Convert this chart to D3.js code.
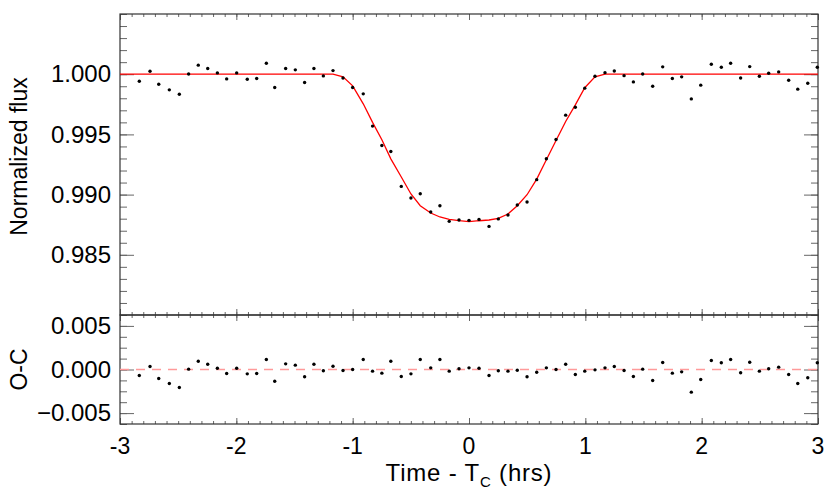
<!DOCTYPE html>
<html>
<head>
<meta charset="utf-8">
<script src="https://cdn.jsdelivr.net/npm/d3@7"></script>
<style>
  body { margin: 0; background: #fff; }
  svg { display: block; font-family: "Liberation Sans", Arial, sans-serif; }
  .tick line { stroke: #666; }
</style>
</head>
<body>
<div id="chart"></div>
<script>
// observation times (hrs from mid-transit)
const time = [-2.834, -2.742, -2.667, -2.576, -2.490, -2.410, -2.327, -2.246, -2.163, -2.083,
  -1.997, -1.906, -1.825, -1.742, -1.670, -1.576, -1.493, -1.413, -1.333, -1.252,
  -1.169, -1.083, -1.000, -0.909, -0.829, -0.749, -0.672, -0.582, -0.499, -0.419,
  -0.329, -0.250, -0.170, -0.086, 0.000, 0.086, 0.172, 0.252, 0.335, 0.415,
  0.499, 0.582, 0.665, 0.748, 0.831, 0.914, 0.995, 1.083, 1.169, 1.249,
  1.333, 1.413, 1.493, 1.579, 1.665, 1.748, 1.828, 1.911, 1.992, 2.083,
  2.169, 2.249, 2.335, 2.413, 2.496, 2.576, 2.662, 2.748, 2.826, 2.912, 2.994];

const flux = [0.99942, 1.00025, 0.99917, 0.99870, 0.99834, 1.00002, 1.00075, 1.00047, 1.00011, 0.99961,
  1.00011, 0.99958, 0.99964, 1.00091, 0.99889, 1.00047, 1.00036, 0.99931, 1.00047, 0.99986,
  1.00030, 0.99969, 0.99889, 0.99837, 0.99569, 0.99408, 0.99358, 0.99068, 0.98972, 0.99007,
  0.98856, 0.98908, 0.98778, 0.98789, 0.98786, 0.98794, 0.98736, 0.98798, 0.98831, 0.98914,
  0.98939, 0.99124, 0.99298, 0.99458, 0.99660, 0.99726, 0.99884, 0.99983, 1.00013, 1.00027,
  0.99988, 0.99936, 1.00002, 0.99900, 1.00061, 0.99964, 0.99978, 0.99795, 0.99909, 1.00083,
  1.00058, 1.00091, 0.99969, 1.00063, 0.99983, 1.00008, 1.00019, 0.99950, 0.99876, 0.99925, 1.00058];

// O-C residuals
const resid = [-0.00069, 0.00034, -0.00103, -0.00161, -0.00206, 0.00004, 0.00095, 0.00061, 0.00015, -0.00046,
  0.00015, -0.00050, -0.00046, 0.00115, -0.00134, 0.00065, 0.00050, -0.00084, 0.00061, -0.00015,
  0.00038, -0.00011, 0.00000, 0.00115, -0.00019, -0.00042, 0.00095, -0.00080, -0.00050, 0.00115,
  0.00019, 0.00115, -0.00019, 0.00008, 0.00019, 0.00015, -0.00069, -0.00015, -0.00019, -0.00008,
  -0.00084, -0.00031, 0.00019, 0.00000, 0.00061, -0.00057, -0.00019, -0.00004, 0.00019, 0.00034,
  -0.00011, -0.00080, 0.00004, -0.00126, 0.00080, -0.00042, -0.00027, -0.00260, -0.00115, 0.00103,
  0.00077, 0.00115, -0.00038, 0.00084, -0.00019, 0.00008, 0.00027, -0.00057, -0.00161, -0.00095, 0.00077];

// model light curve (red line)
const modelTime = [-3.0, -1.169, -1.083, -1.000, -0.909, -0.829, -0.749, -0.672, -0.582, -0.499,
  -0.419, -0.329, -0.250, -0.170, -0.086, 0.000, 0.086, 0.172, 0.252, 0.335,
  0.415, 0.499, 0.582, 0.665, 0.748, 0.831, 0.914, 0.995, 1.083, 1.169, 3.0];
const modelFlux = [1.00000, 1.00000, 0.99978, 0.99903, 0.99754, 0.99600, 0.99455, 0.99297, 0.99146, 0.99005,
  0.98908, 0.98847, 0.98814, 0.98794, 0.98783, 0.98775, 0.98783, 0.98789, 0.98803, 0.98839,
  0.98908, 0.98999, 0.99129, 0.99289, 0.99449, 0.99607, 0.99745, 0.99888, 0.99978, 1.00000, 1.00000];

const xTicks = [-3, -2, -1, 0, 1, 2, 3];
const fluxTicks = [0.985, 0.990, 0.995, 1.000];
const residTicks = [-0.005, 0.000, 0.005];

const W = 830, H = 501;
const pLeft = 120, pRight = 818, pTop = 14, pMid = 315, pBottom = 424;

const svg = d3.select("#chart").append("svg")
    .attr("width", W)
    .attr("height", H);

const x = d3.scaleLinear().domain([-3, 3]).range([pLeft, pRight]);
const yTop = d3.scaleLinear().domain([0.980, 1.005]).range([pMid, pTop]);
const yBot = d3.scaleLinear().domain([-0.00625, 0.00625]).range([pBottom, pMid]);

const xMinor = x.ticks(60);
const fluxMinor = yTop.ticks(25);
const residMinor = d3.range(-5, 6).map(i => i * 0.00125);

function yAxes(y, major, minor) {
    // left side
    svg.append("g").attr("transform", `translate(${pLeft},0)`)
        .call(d3.axisLeft(y).tickValues(minor).tickSizeInner(-7).tickSizeOuter(0).tickFormat(""))
        .call(g => g.select(".domain").remove());
    svg.append("g").attr("transform", `translate(${pLeft},0)`)
        .call(d3.axisLeft(y).tickValues(major).tickSizeInner(-14).tickSizeOuter(0).tickPadding(9)
            .tickFormat(d3.format(".3f")))
        .call(g => g.select(".domain").remove())
        .call(g => g.selectAll("text").attr("font-size", 24).attr("fill", "#000")
            .attr("font-family", "Liberation Sans, Arial, sans-serif"));
    // right side
    svg.append("g").attr("transform", `translate(${pRight},0)`)
        .call(d3.axisRight(y).tickValues(minor).tickSizeInner(-7).tickSizeOuter(0).tickFormat(""))
        .call(g => g.select(".domain").remove());
    svg.append("g").attr("transform", `translate(${pRight},0)`)
        .call(d3.axisRight(y).tickValues(major).tickSizeInner(-14).tickSizeOuter(0).tickFormat(""))
        .call(g => g.select(".domain").remove());
}

function xAxes(yPos, dir) {
    const axis = dir > 0 ? d3.axisBottom : d3.axisTop;
    svg.append("g").attr("transform", `translate(0,${yPos})`)
        .call(axis(x).tickValues(xMinor).tickSizeInner(-3).tickSizeOuter(0).tickFormat(""))
        .call(g => g.select(".domain").remove());
    svg.append("g").attr("transform", `translate(0,${yPos})`)
        .call(axis(x).tickValues(xTicks).tickSizeInner(-6).tickSizeOuter(0).tickFormat(""))
        .call(g => g.select(".domain").remove());
}

yAxes(yTop, fluxTicks, fluxMinor);
yAxes(yBot, residTicks, residMinor);
xAxes(pTop, -1);
xAxes(pMid, 1);
xAxes(pMid, -1);
xAxes(pBottom, 1);

// x tick labels
svg.append("g").selectAll("text")
    .data(xTicks)
    .enter().append("text")
    .attr("x", d => x(d))
    .attr("y", 454)
    .attr("text-anchor", "middle")
    .attr("font-size", 23)
    .text(d => d);

// frames
[[pTop, pMid], [pMid, pBottom]].forEach(([a, b]) => {
    svg.append("rect")
        .attr("x", pLeft).attr("y", a)
        .attr("width", pRight - pLeft).attr("height", b - a)
        .attr("fill", "none").attr("stroke", "#333").attr("stroke-width", 1.2);
});

// model line
const line = d3.line().x(d => x(d[0])).y(d => yTop(d[1]));
svg.append("path")
    .datum(modelTime.map((t, i) => [t, modelFlux[i]]))
    .attr("d", line)
    .attr("fill", "none")
    .attr("stroke", "#ff0000")
    .attr("stroke-width", 1.3);

// data points
svg.append("g").selectAll("circle")
    .data(time.map((t, i) => [t, flux[i]]))
    .enter().append("circle")
    .attr("cx", d => x(d[0]))
    .attr("cy", d => yTop(d[1]))
    .attr("r", 1.7)
    .attr("fill", "#000");

// zero line in residual panel
svg.append("line")
    .attr("x1", x(-3)).attr("x2", x(3))
    .attr("y1", yBot(0)).attr("y2", yBot(0))
    .attr("stroke", "#ff9a9a")
    .attr("stroke-width", 1.5)
    .attr("stroke-dasharray", "9,7");

svg.append("g").selectAll("circle")
    .data(time.map((t, i) => [t, resid[i]]))
    .enter().append("circle")
    .attr("cx", d => x(d[0]))
    .attr("cy", d => yBot(d[1]))
    .attr("r", 1.7)
    .attr("fill", "#000");

// axis titles
svg.append("text")
    .attr("transform", `translate(27,${(pTop + pMid) / 2 - 8}) rotate(-90)`)
    .attr("text-anchor", "middle")
    .attr("font-size", 23)
    .text("Normalized flux");

svg.append("text")
    .attr("transform", `translate(27,${yBot(0)}) rotate(-90)`)
    .attr("text-anchor", "middle")
    .attr("font-size", 23)
    .text("O-C");

const title = svg.append("text")
    .attr("x", x(0))
    .attr("y", 481)
    .attr("text-anchor", "middle")
    .attr("font-size", 24)
    .attr("letter-spacing", 0.8);
title.append("tspan").text("Time - T");
title.append("tspan").attr("font-size", 15).attr("dy", 6).text("C");
title.append("tspan").attr("dy", -6).text(" (hrs)");
</script>
</body>
</html>
